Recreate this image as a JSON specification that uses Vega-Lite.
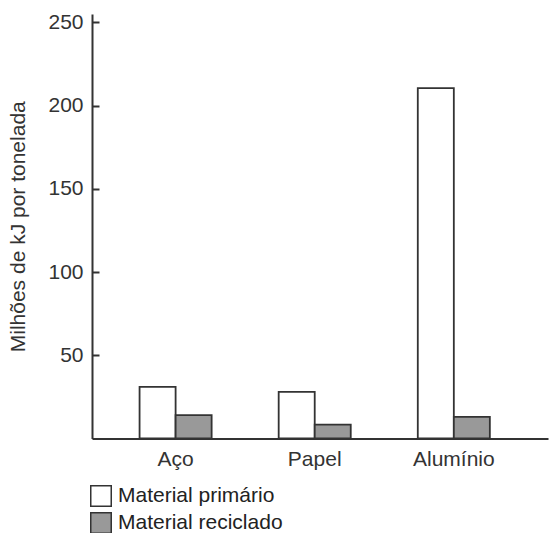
{
  "$schema": "https://vega.github.io/schema/vega-lite/v6.json",
  "width": 456,
  "height": 424.5,
  "autosize": {"type": "none"},
  "padding": {"left": 92, "top": 14, "right": 3, "bottom": 94.5},
  "background": "#ffffff",
  "config": {
    "view": {"stroke": null},
    "font": "Liberation Sans",
    "axis": {"grid": false, "domainColor": "#333333", "domainWidth": 2, "tickColor": "#333333", "tickWidth": 2, "labelColor": "#333333", "titleColor": "#333333", "labelFont": "Liberation Sans", "titleFont": "Liberation Sans"}
  },
  "data": {
    "values": [
      {"material": "Aço", "tipo": "Material primário", "valor": 31},
      {"material": "Aço", "tipo": "Material reciclado", "valor": 14},
      {"material": "Papel", "tipo": "Material primário", "valor": 28},
      {"material": "Papel", "tipo": "Material reciclado", "valor": 8.3},
      {"material": "Alumínio", "tipo": "Material primário", "valor": 210.5},
      {"material": "Alumínio", "tipo": "Material reciclado", "valor": 13}
    ]
  },
  "mark": {"type": "bar", "stroke": "#333333", "strokeWidth": 1.8},
  "encoding": {
    "x": {
      "field": "material", "type": "nominal", "sort": ["Aço", "Papel", "Alumínio"],
      "scale": {"paddingInner": 0.482, "paddingOuter": 0.38, "align": 0.45},
      "axis": {"title": null, "labelAngle": 0, "ticks": false, "labelFontSize": 21, "labelPadding": 10}
    },
    "xOffset": {"field": "tipo", "type": "nominal", "scale": {"paddingInner": 0, "paddingOuter": 0}},
    "y": {
      "field": "valor", "type": "quantitative",
      "scale": {"domain": [0, 255], "nice": false},
      "axis": {"title": "Milhões de kJ por tonelada", "values": [50, 100, 150, 200, 250], "tickSize": -7, "labelFontSize": 21, "labelPadding": 16, "titleFontSize": 21, "titleFontWeight": "normal", "titlePadding": 19}
    },
    "fill": {
      "field": "tipo", "type": "nominal",
      "scale": {"domain": ["Material primário", "Material reciclado"], "range": ["#ffffff", "#999999"]},
      "legend": {"title": null, "orient": "none", "legendX": -2, "legendY": 471, "symbolType": "square", "symbolSize": 420, "symbolStrokeColor": "#333333", "symbolStrokeWidth": 1.5, "labelFontSize": 21, "labelColor": "#222222", "labelOffset": 6, "rowPadding": -1, "labelLimit": 400}
    }
  }
}
